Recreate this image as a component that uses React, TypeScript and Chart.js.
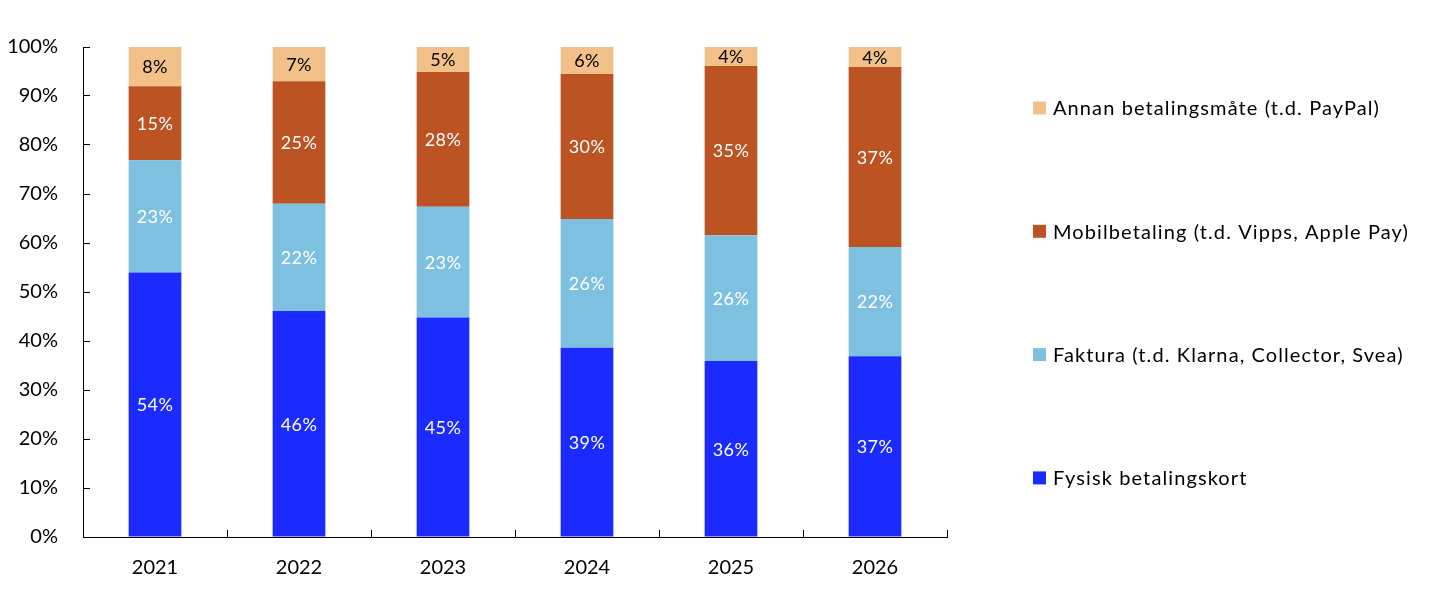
import React, { useEffect, useRef } from "react";
import { Chart, registerables } from "chart.js";

Chart.register(...registerables);

const years = ["2021", "2022", "2023", "2024", "2025", "2026"];
const fysisk = [54.0, 46.1, 44.8, 38.6, 35.9, 36.9];
const faktura = [22.9, 21.9, 22.6, 26.3, 25.7, 22.3];
const mobil = [15.1, 25.0, 27.5, 29.6, 34.5, 36.7];
const annan = [8.0, 7.0, 5.1, 5.5, 3.9, 4.1];
const seriesNames = [
  "Fysisk betalingskort",
  "Faktura (t.d. Klarna, Collector, Svea)",
  "Mobilbetaling (t.d. Vipps, Apple Pay)",
  "Annan betalingsmåte (t.d. PayPal)",
];
const seriesColors = ["#1b2bff", "#7ec0e0", "#bb5323", "#f2c18a"];
const labelColors = ["#ffffff", "#ffffff", "#ffffff", "#000000"];
const yTicks = [0, 10, 20, 30, 40, 50, 60, 70, 80, 90, 100];

const FONT = "Lato, 'Open Sans', sans-serif";

const dataLabelPlugin = {
  id: "dataLabels",
  afterDatasetsDraw(chart: any) {
    const ctx = chart.ctx;
    ctx.save();
    ctx.font = `18px ${FONT}`;
    ctx.textAlign = "center";
    ctx.textBaseline = "middle";
    try { (ctx as any).letterSpacing = "0.4px"; } catch (e) {}
    chart.data.datasets.forEach((ds: any, di: number) => {
      const meta = chart.getDatasetMeta(di);
      meta.data.forEach((bar: any, i: number) => {
        const v = ds.data[i];
        const p = bar.getProps(["x", "y", "base"], true);
        ctx.fillStyle = labelColors[di];
        ctx.fillText(Math.round(v) + "%", p.x, (p.y + p.base) / 2 + 1);
      });
    });
    ctx.restore();
  },
};

const legendPlugin = {
  id: "sideLegend",
  afterDraw(chart: any) {
    const ctx = chart.ctx;
    const x0 = chart.chartArea.right + 86;
    const yStart = 100;
    const step = 123.3;
    ctx.save();
    ctx.font = `20px ${FONT}`;
    ctx.textBaseline = "middle";
    ctx.textAlign = "left";
    try { (ctx as any).letterSpacing = "1.1px"; } catch (e) {}
    const n = chart.data.datasets.length;
    for (let k = 0; k < n; k++) {
      const di = n - 1 - k;
      const ds = chart.data.datasets[di];
      const y = yStart + k * step;
      ctx.fillStyle = ds.backgroundColor;
      ctx.fillRect(x0, y - 6.5, 13, 13);
      ctx.fillStyle = "#000";
      ctx.fillText(ds.label, x0 + 20, y + 1);
    }
    ctx.restore();
  },
};

export default function App() {
  const ref = useRef<HTMLCanvasElement>(null);
  useEffect(() => {
    if (!ref.current) return;
    const seriesData = [fysisk, faktura, mobil, annan];
    const chart = new Chart(ref.current, {
      type: "bar",
      data: {
        labels: years,
        datasets: seriesData.map((d, i) => ({
          label: seriesNames[i],
          data: d,
          backgroundColor: seriesColors[i],
          borderWidth: 0,
          barPercentage: 0.366,
          categoryPercentage: 1,
        })),
      },
      options: {
        animation: false,
        responsive: true,
        maintainAspectRatio: false,
        layout: { padding: { top: 39, right: 490, bottom: 0, left: 0 } },
        plugins: {
          legend: { display: false },
          tooltip: { enabled: false },
        },
        scales: {
          x: {
            stacked: true,
            grid: {
              display: true,
              drawOnChartArea: false,
              drawTicks: true,
              tickLength: -7,
              color: "#000",
              lineWidth: 1,
              offset: true,
            },
            border: { display: true, color: "#000", width: 1 },
            ticks: {
              color: "#000",
              font: { family: FONT, size: 20 },
              padding: 26,
              maxRotation: 0,
            },
            afterFit(scale: any) {
              scale.height = 48;
            },
          },
          y: {
            stacked: true,
            min: 0,
            max: 100,
            afterBuildTicks(scale: any) {
              scale.ticks = yTicks.map((v) => ({ value: v }));
            },
            grid: {
              display: true,
              drawOnChartArea: false,
              drawTicks: true,
              tickLength: -7,
              color: "#000",
              lineWidth: 1,
            },
            border: { display: true, color: "#000", width: 1 },
            ticks: {
              color: "#000",
              font: { family: FONT, size: 20 },
              padding: 32,
              callback: (v: any) => v + "%",
            },
            afterFit(scale: any) {
              scale.width = 75;
              scale.paddingTop = 0;
              scale.paddingBottom = 0;
            },
          },
        },
      },
      plugins: [dataLabelPlugin, legendPlugin],
    });
    return () => chart.destroy();
  }, []);
  return (
    <div style={{ position: "relative", width: "100%", height: 577 }}>
      <canvas ref={ref} />
    </div>
  );
}
